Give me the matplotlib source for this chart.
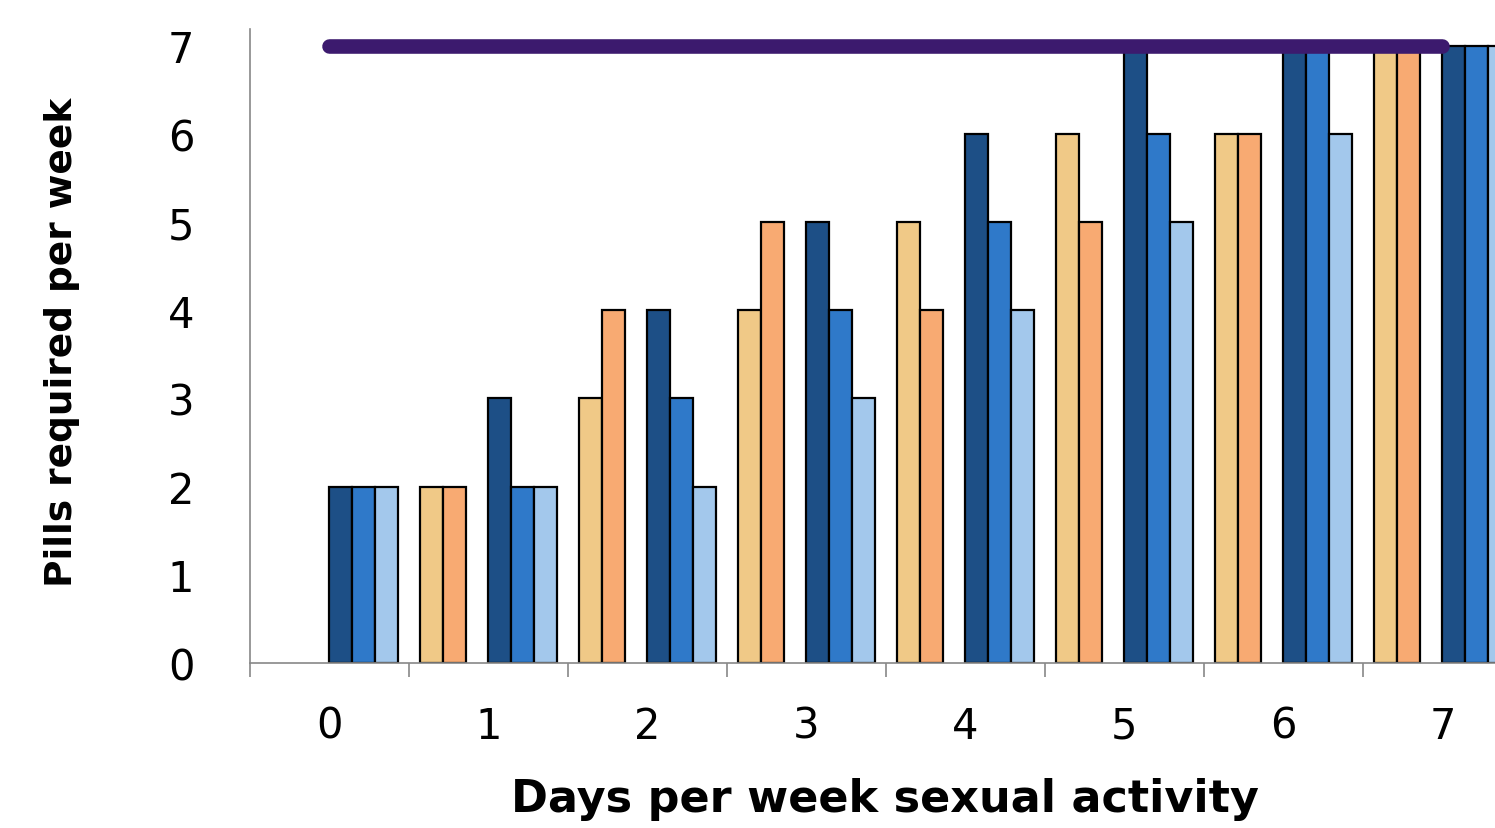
#!/usr/bin/python3

# Pills required per week vs. days per week of sexual activity

import matplotlib
matplotlib.use("Agg")
import matplotlib.pyplot as plt
import numpy as np

# data
days = [0, 1, 2, 3, 4, 5, 6, 7]
tan_vals = [0, 2, 3, 4, 5, 6, 6, 7]
orange_vals = [0, 2, 4, 5, 4, 5, 6, 7]
dark_vals = [2, 3, 4, 5, 6, 7, 7, 7]
mid_vals = [2, 2, 3, 4, 5, 6, 7, 7]
light_vals = [2, 2, 2, 3, 4, 5, 6, 7]
line_vals = [7, 7, 7, 7, 7, 7, 7, 7]

series = [
    (tan_vals, "#f0c987", 0),
    (orange_vals, "#f8aa72", 1),
    (dark_vals, "#1d4f86", 3),
    (mid_vals, "#2f79c9", 4),
    (light_vals, "#a3c8ec", 5),
]

fig = plt.figure(figsize=(14.95, 8.29), dpi=100)
# axes run off the right edge of the picture, as in the original
ax = fig.add_axes([0.1672, 0.1990, 0.8508, 0.7648])

w = 1.0 / 7
x = np.array(days, dtype=float)
for vals, col, slot in series:
    v = np.array(vals, dtype=float)
    keep = v > 0
    ax.bar(x[keep] - 0.5 + (slot + 1) * w, v[keep], width=w,
           color=col, edgecolor="black", linewidth=1.6, zorder=2)

ax.plot(days, line_vals, color="#3c1a6e", linewidth=10.5,
        solid_capstyle="round", zorder=3)

ax.set_xlim(-0.5, 7.5)
ax.set_ylim(0, 7.19)

ax.set_yticks(range(0, 8))
ax.tick_params(axis="y", length=0, pad=40, labelsize=30)
ax.set_xticks(days)
ax.set_xticks(np.arange(-0.5, 8, 1), minor=True)
ax.tick_params(axis="x", which="major", length=0, pad=30, labelsize=30)
ax.tick_params(axis="x", which="minor", length=10, width=1.2, color="#888888")

for s in ["top", "right"]:
    ax.spines[s].set_visible(False)
ax.spines["left"].set_color("#888888")
ax.spines["bottom"].set_color("#888888")
ax.spines["left"].set_linewidth(1.2)
ax.spines["bottom"].set_linewidth(1.2)

fig.text(0.592, 0.035, "Days per week sexual activity", ha="center",
         va="center", fontsize=32, fontweight="bold")
fig.text(0.0415, 0.587, "Pills required per week", ha="center", va="center",
         rotation=90, fontsize=27, fontweight="bold")

plt.savefig("out.png", dpi=100)
